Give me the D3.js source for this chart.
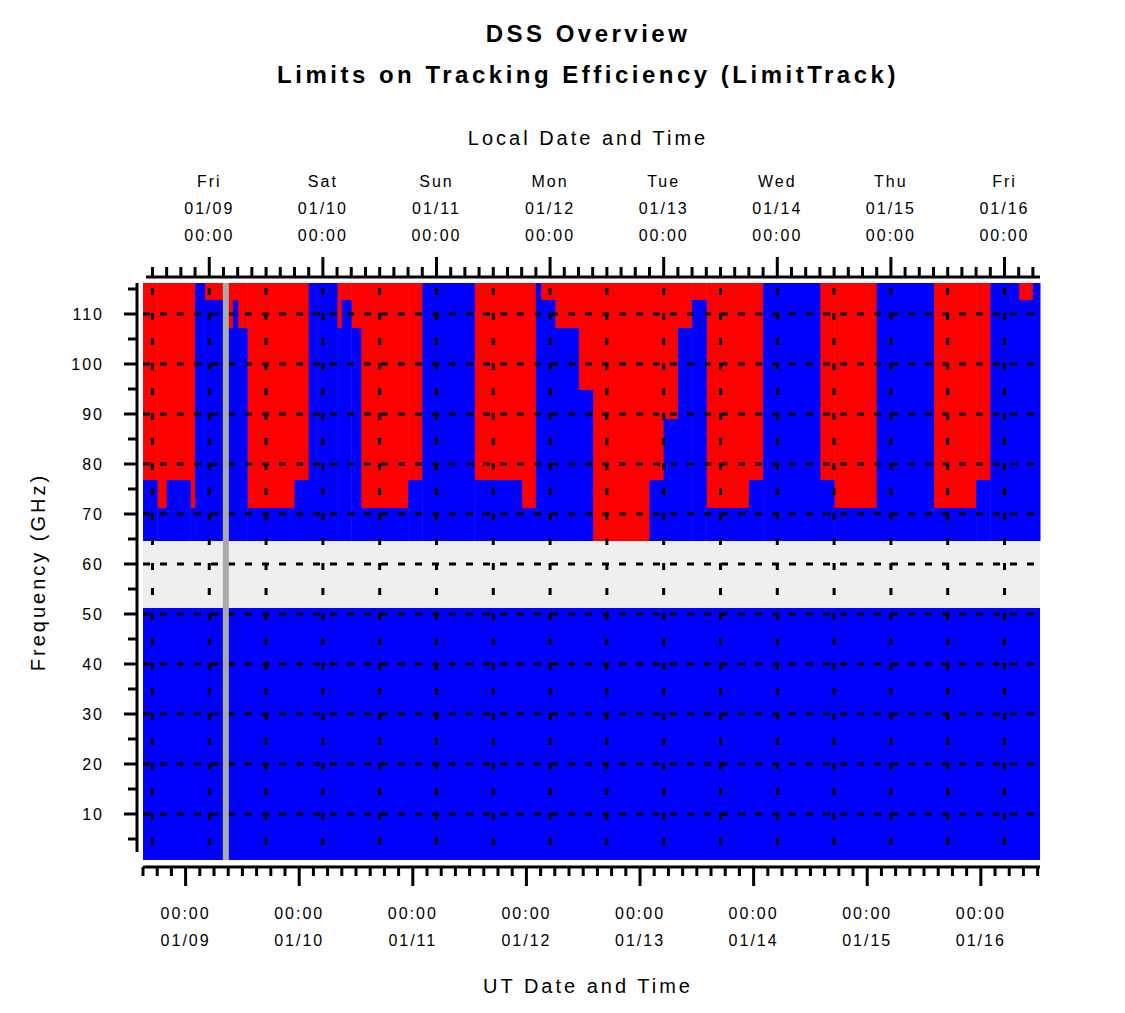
<!DOCTYPE html>
<html>
<head>
<meta charset="utf-8">
<script src="https://cdn.jsdelivr.net/npm/d3@7"></script>
<style>
  body { margin: 0; background: #fff; }
  text { font-family: "Liberation Sans", Arial, sans-serif; fill: #000; }
</style>
</head>
<body>
<div id="chart"></div>
<script>
// hours since 01/08 15:00 UT, and the frequency above which tracking is limited (red)
const segStart = [0, 3, 5, 10, 11, 13, 18, 19, 20, 22, 32, 35, 41, 42, 44, 46, 56, 59, 70, 80, 83, 84, 87, 92, 95, 107, 110, 113, 116, 119, 128, 131, 143, 146, 155, 167, 176, 179, 185, 188]
const segLimit = [76.8, 71.2, 76.8, 71.2, 116.2, 112.8, 107.2, 112.8, 107.2, 71.2, 76.8, 116.2, 107.2, 112.8, 107.2, 71.2, 76.8, 116.2, 76.8, 71.2, 116.2, 112.8, 107.2, 94.8, 64.6, 76.8, 89, 107.2, 112.8, 71.2, 76.8, 116.2, 76.8, 71.2, 116.2, 71.2, 76.8, 116.2, 112.8, 116.2]
const endHour = 189.5
const nowHour = 17.5
const gapBand = [51.2, 64.6]
const freqTicks = [10, 20, 30, 40, 50, 60, 70, 80, 90, 100, 110]
const localDays = ['Fri', 'Sat', 'Sun', 'Mon', 'Tue', 'Wed', 'Thu', 'Fri']
const localDates = ['01/09', '01/10', '01/11', '01/12', '01/13', '01/14', '01/15', '01/16']
const utDates = ['01/09', '01/10', '01/11', '01/12', '01/13', '01/14', '01/15', '01/16']
const utOffset = -5 // local = UT - 5h

const width = 1125
const height = 1013
const plot = { left: 143, right: 1040, top: 283, bottom: 860 }

const svg = d3.select('#chart').append('svg')
  .attr('width', width).attr('height', height)

const x = d3.scaleLinear().domain([0, endHour]).range([plot.left, plot.right])
const y = d3.scaleLinear().domain([0.8, 116.2]).range([plot.bottom, plot.top])

// hours since start for UT midnight of day i (01/09 + i)
const utMidnight = i => 9 + 24 * i
const localMidnight = i => 9 - utOffset + 24 * i

const segs = segStart.map((s, i) => ({
  start: s,
  end: i < segStart.length - 1 ? segStart[i + 1] : endHour,
  limit: segLimit[i]
}))

// blue below the band
svg.append('rect')
  .attr('x', x(0)).attr('width', x(endHour) - x(0))
  .attr('y', y(gapBand[0])).attr('height', y(0.8) - y(gapBand[0]))
  .attr('fill', '#0000ff')
svg.append('rect')
  .attr('x', x(0)).attr('width', x(endHour) - x(0))
  .attr('y', y(gapBand[1])).attr('height', y(gapBand[0]) - y(gapBand[1]))
  .attr('fill', '#efefef')

// columns above the band
svg.selectAll('.red').data(segs).enter().append('rect')
  .attr('x', d => x(d.start)).attr('width', d => x(d.end) - x(d.start) + 0.5)
  .attr('y', y(116.2)).attr('height', d => y(d.limit) - y(116.2))
  .attr('fill', '#ff0000')
svg.selectAll('.blue').data(segs).enter().append('rect')
  .attr('x', d => x(d.start)).attr('width', d => x(d.end) - x(d.start) + 0.5)
  .attr('y', d => y(d.limit)).attr('height', d => y(gapBand[1]) - y(d.limit))
  .attr('fill', '#0000ff')

// grid
const dash = '7,10'
svg.selectAll('.hgrid').data(freqTicks).enter().append('line')
  .attr('x1', plot.left).attr('x2', plot.right)
  .attr('y1', d => y(d)).attr('y2', d => y(d))
  .attr('stroke', '#000').attr('stroke-width', 3).attr('stroke-dasharray', dash)
const vgrid = d3.range(-1, 16).map(i => localMidnight(0) + 12 * i).filter(h => h > 0 && h < endHour)
svg.selectAll('.vgrid').data(vgrid).enter().append('line')
  .attr('x1', d => x(d)).attr('x2', d => x(d))
  .attr('y1', plot.top + 5).attr('y2', plot.bottom)
  .attr('stroke', '#000').attr('stroke-width', 3).attr('stroke-dasharray', '7,18')

// current time marker
svg.append('rect')
  .attr('x', x(nowHour) - 3).attr('width', 6)
  .attr('y', plot.top).attr('height', plot.bottom - plot.top)
  .attr('fill', '#aaaaaa')

// axes
const ticks3h = d3.range(0, endHour + 1, 3)
const topTicks3h = d3.range(2, endHour, 3)

// bottom
const gB = svg.append('g')
gB.append('line').attr('x1', plot.left).attr('x2', plot.right).attr('y1', 867).attr('y2', 867)
  .attr('stroke', '#000').attr('stroke-width', 3)
gB.selectAll('line.t').data(ticks3h).enter().append('line')
  .attr('x1', d => x(d)).attr('x2', d => x(d))
  .attr('y1', 867).attr('y2', d => ((d - 9) % 24 === 0 ? 886 : 876))
  .attr('stroke', '#000').attr('stroke-width', 3)
utDates.forEach((dt, i) => {
  const t = gB.append('text').attr('text-anchor', 'middle')
    .attr('font-size', 16).attr('letter-spacing', 2)
  t.append('tspan').attr('x', x(utMidnight(i))).attr('y', 919).text('00:00')
  t.append('tspan').attr('x', x(utMidnight(i))).attr('y', 946).text(dt)
})

// top
const gT = svg.append('g')
gT.append('line').attr('x1', plot.left + 3).attr('x2', plot.right).attr('y1', 277).attr('y2', 277)
  .attr('stroke', '#000').attr('stroke-width', 3)
gT.selectAll('line.t').data(topTicks3h).enter().append('line')
  .attr('x1', d => x(d)).attr('x2', d => x(d))
  .attr('y1', 277).attr('y2', d => ((d - localMidnight(0)) % 24 === 0 ? 257 : 267))
  .attr('stroke', '#000').attr('stroke-width', 3)
localDays.forEach((day, i) => {
  const t = gT.append('text').attr('text-anchor', 'middle')
    .attr('font-size', 16).attr('letter-spacing', 2)
  const cx = x(localMidnight(i))
  t.append('tspan').attr('x', cx).attr('y', 187).text(day)
  t.append('tspan').attr('x', cx).attr('y', 214).text(localDates[i])
  t.append('tspan').attr('x', cx).attr('y', 241).text('00:00')
})

// left
const gL = svg.append('g')
gL.append('line').attr('x1', 137).attr('x2', 137).attr('y1', y(116.2)).attr('y2', 852)
  .attr('stroke', '#000').attr('stroke-width', 3)
gL.selectAll('line.t').data(d3.range(5, 116, 5)).enter().append('line')
  .attr('x1', 137).attr('x2', d => (d % 10 === 0 ? 124 : 128))
  .attr('y1', d => y(d)).attr('y2', d => y(d))
  .attr('stroke', '#000').attr('stroke-width', 3)
gL.selectAll('text').data(freqTicks).enter().append('text')
  .attr('x', 104).attr('y', d => y(d) + 6)
  .attr('text-anchor', 'end').attr('font-size', 16).attr('letter-spacing', 2)
  .text(d => d)

// titles
svg.append('text').attr('x', 588).attr('y', 42).attr('text-anchor', 'middle')
  .attr('font-size', 24).attr('font-weight', 'bold').attr('letter-spacing', 3.5).text('DSS Overview')
svg.append('text').attr('x', 588).attr('y', 83).attr('text-anchor', 'middle')
  .attr('font-size', 24).attr('font-weight', 'bold').attr('letter-spacing', 3.5)
  .text('Limits on Tracking Efficiency (LimitTrack)')
svg.append('text').attr('x', 588).attr('y', 145).attr('text-anchor', 'middle')
  .attr('font-size', 20).attr('letter-spacing', 3).text('Local Date and Time')
svg.append('text').attr('x', 588).attr('y', 993).attr('text-anchor', 'middle')
  .attr('font-size', 20).attr('letter-spacing', 3).text('UT Date and Time')
svg.append('text').attr('transform', 'translate(45,572) rotate(-90)').attr('text-anchor', 'middle')
  .attr('font-size', 20).attr('letter-spacing', 3).text('Frequency (GHz)')
</script>
</body>
</html>
